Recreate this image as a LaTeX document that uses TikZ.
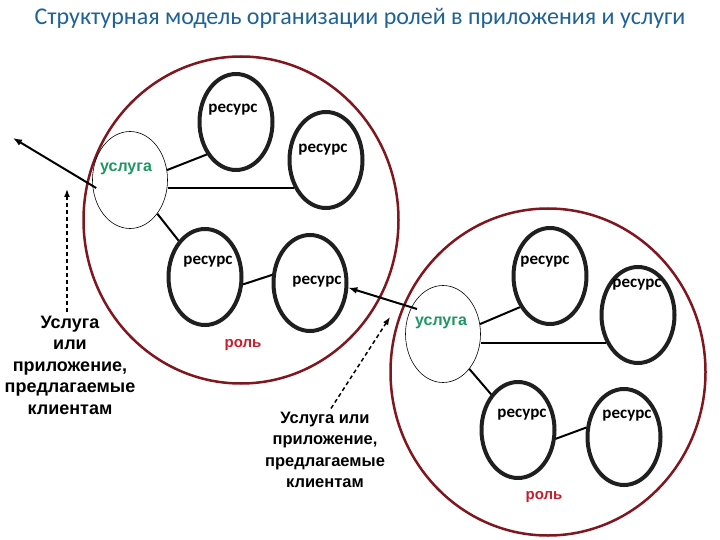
\documentclass[tikz,border=0pt]{standalone}
\usepackage{fontspec}
\setmainfont{Carlito}
\newfontfamily\arialf{Liberation Sans}
\usetikzlibrary{shapes.geometric,arrows.meta,calc}
\definecolor{rolered}{RGB}{128,22,30}
\definecolor{srvgreen}{RGB}{32,150,100}
\definecolor{rolelblc}{RGB}{200,30,45}
\definecolor{titleblue}{RGB}{30,98,150}
\begin{document}
\begin{tikzpicture}[x=1pt,y=-1pt,
  rolec/.style={ellipse, draw=rolered, line width=2.5pt, inner sep=0, minimum width=315, minimum height=327},
  res/.style={ellipse, draw=black!88, line width=4pt, inner sep=0, minimum width=73, minimum height=96},
  srv/.style={ellipse, draw, line width=0.6pt, inner sep=0, minimum width=75, minimum height=97},
  reslbl/.style={font=\bfseries\fontsize{17}{20}\selectfont},
  srvlbl/.style={text=srvgreen, font=\arialf\bfseries\fontsize{16}{19}\selectfont},
  rolelbl/.style={text=rolelblc, font=\arialf\bfseries\fontsize{15}{18}\selectfont},
  clientlbl/.style={align=center, font=\arialf\bfseries\fontsize{18}{21.5}\selectfont},
  conn/.style={line width=2pt},
  solidarrow/.style={line width=2pt, -{Latex[length=9pt,width=7pt]}},
  dasharrow/.style={line width=1.5pt, dash pattern=on 4pt off 3pt, -{Latex[length=8pt,width=6pt]}}
]
\useasboundingbox (0,0) rectangle (720,540);
\fill[white] (0,0) rectangle (720,540);

% title
\node[text=titleblue, font=\fontsize{24}{28}\selectfont] (title) at (360,18) {Структурная модель организации ролей в приложения и услуги};

% left role
\node[rolec] (role1) at (241,220) {};
\node[srv] (s1) at (130,180) {};
\node[res] (r1) at (236,122) {};
\node[res] (r2) at (326,160) {};
\node[res] (r3) at (205,277) {};
\node[res] (r4) at (310,283) {};
\node[srvlbl] (s1l) at (126,169) {услуга};
\node[reslbl] (r1l) at (233,110) {ресурс};
\node[reslbl] (r2l) at (323,150) {ресурс};
\node[reslbl] (r3l) at (208,262) {ресурс};
\node[reslbl] (r4l) at (317,282) {ресурс};
\node[rolelbl] (role1l) at (243,345) {роль};

\draw[conn] (s1.15) -- (r1.228);
\draw[conn] (s1.east |- r2.222) -- (r2.222);
\draw[conn] (s1.-51) -- (r3.126);
\draw[conn] (r3.-11) -- (r4.168);

% right role
\node[rolec] (role2) at (548,372) {};
\node[srv] (s2) at (443,334) {};
\node[res] (ra) at (550,276) {};
\node[res] (rb) at (638,315) {};
\node[res] (rc) at (518,430) {};
\node[res] (rd) at (624,437) {};
\node[srvlbl] (s2l) at (441,323) {услуга};
\node[reslbl] (ral) at (545,262) {ресурс};
\node[reslbl] (rbl) at (637,285) {ресурс};
\node[reslbl] (rcl) at (522,415) {ресурс};
\node[reslbl] (rdl) at (627,416) {ресурс};
\node[rolelbl] (role2l) at (544,497) {роль};

\draw[conn] (s2.15) -- (ra.226);
\draw[conn] (s2.east |- rb.222) -- (rb.222);
\draw[conn] (s2.-53) -- (rc.127);
\draw[conn] (rc.-13) -- (rd.166);

% client texts
\node[clientlbl] (t1) at (70,365) {Услуга\\или\\приложение,\\предлагаемые\\клиентам};
\node[clientlbl, font=\arialf\bfseries\fontsize{16.5}{21.5}\selectfont] (t2) at (325,450) {Услуга или\\приложение,\\предлагаемые\\клиентам};

% arrows
\coordinate (out1) at (13,138);
\draw[solidarrow] ([shift={(4,8)}]s1.west) -- (out1);
\coordinate (d1) at (67,189);
\draw[dasharrow] (d1 |- t1.north) -- (d1);
\draw[solidarrow] ([shift={(-26,-25)}]s2.center) -- (r4.-7);
\coordinate (d2) at (390,317);
\draw[dasharrow] ([xshift=6pt]t2.north) -- (d2);
\end{tikzpicture}
\end{document}
